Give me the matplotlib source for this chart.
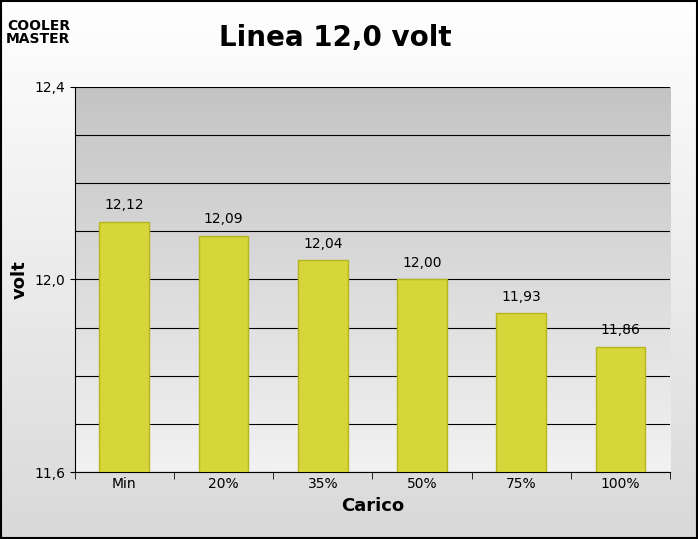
import matplotlib
matplotlib.use("Agg")
import matplotlib.pyplot as plt
import numpy as np

categories = ["Min", "20%", "35%", "50%", "75%", "100%"]
values = [12.12, 12.09, 12.04, 12.00, 11.93, 11.86]
labels = ["12,12", "12,09", "12,04", "12,00", "11,93", "11,86"]

fig = plt.figure(figsize=(6.98, 5.39), dpi=100)
bg = fig.add_axes([0, 0, 1, 1], zorder=-10)
grad = np.linspace(0, 1, 256).reshape(-1, 1)
bg.imshow(grad, aspect="auto", cmap=matplotlib.colors.LinearSegmentedColormap.from_list("g", ["#ffffff", "#d9d9d9"]), extent=[0, 1, 0, 1], origin="upper")
bg.set_xlim(0, 1); bg.set_ylim(0, 1); bg.axis("off")
bg.add_patch(plt.Rectangle((0.002, 0.002), 0.996, 0.996, fill=False, ec="black", lw=1.5))

ax = fig.add_axes([0.107, 0.124, 0.853, 0.715])
ax.imshow(np.linspace(0, 1, 256).reshape(-1, 1), aspect="auto",
          cmap=matplotlib.colors.LinearSegmentedColormap.from_list("p", ["#c4c4c4", "#f2f2f2"]),
          extent=[-0.5, 5.5, 11.6, 12.4], origin="upper", zorder=0)
x = np.arange(len(categories))
ax.bar(x, [v - 11.6 for v in values], bottom=11.6, width=0.5, color="#d6d63a", edgecolor="#b5b520", lw=1, zorder=3)
for xi, v, l in zip(x, values, labels):
    ax.text(xi, v + 0.02, l, ha="center", va="bottom", fontsize=10, zorder=4)
ax.set_xlim(-0.5, 5.5)
ax.set_ylim(11.6, 12.4)
ax.set_yticks(np.arange(11.6, 12.401, 0.1), minor=True)
ax.set_yticks([11.6, 12.0, 12.4])
ax.set_yticklabels(["11,6", "12,0", "12,4"], fontsize=10)
ax.grid(axis="y", which="both", color="black", lw=0.8, zorder=1)
ax.tick_params(which="minor", length=0)
ax.set_xticks(x)
ax.set_xticklabels(categories, fontsize=10)
ax.set_xticks(np.arange(-0.5, 5.6, 1), minor=True)
ax.tick_params(axis="x", which="major", length=0)
ax.tick_params(axis="x", which="minor", length=5)
for s in ["top", "right"]:
    ax.spines[s].set_visible(False)
ax.set_xlabel("Carico", fontsize=13, fontweight="bold", labelpad=4)
ax.set_ylabel("volt", fontsize=13, fontweight="bold", labelpad=4)
fig.text(0.48, 0.93, "Linea 12,0 volt", ha="center", va="center", fontsize=20, fontweight="bold")
fig.text(0.055, 0.94, "COOLER\nMASTER", ha="center", va="center", fontsize=10, fontweight="bold", linespacing=0.9)
fig.savefig("out.png", dpi=100)
